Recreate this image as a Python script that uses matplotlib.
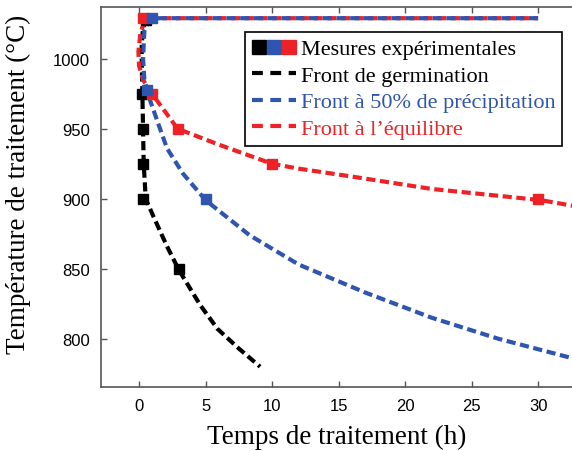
import numpy as np
import matplotlib
matplotlib.use("Agg")
import matplotlib.pyplot as plt
from matplotlib.lines import Line2D
from matplotlib.legend_handler import HandlerTuple

# dashed model curves (time in h, temperature in degC)
germ_t = [0.6, 0.3, 0.2, 0.2, 0.25, 0.3, 0.35, 0.5, 1.05, 2.1, 3.0, 4.6, 5.9, 7.5, 9.1]
germ_T = [1029, 1022, 1010, 1000, 975, 950, 925, 900, 888, 866, 849, 824, 807, 793, 780]

half_t = [30, 1.5, 0.8, 0.4, 0.3, 0.4, 0.8, 2.1, 3.3, 5.0, 8.3, 12, 17, 22, 27, 32.6]
half_T = [1029, 1029, 1027, 1020, 1000, 985, 971, 936, 918, 899, 874, 853, 833, 815, 800, 786]

eq_t = [30, 1.0, 0.4, 0.1, -0.05, 0.0, 0.3, 1.05, 2.9, 5.9, 10, 12, 15.9, 22, 30.2, 32.6]
eq_T = [1029, 1029, 1027, 1018, 1005, 995, 985, 974, 950, 939, 925, 921.5, 916, 907, 899, 895]

# experimental points
germ_pt_t = [0.5, 0.25, 0.3, 0.3, 0.3, 3.0]
germ_pt_T = [1028, 975, 950, 925, 900, 850]
half_pt_t = [1.0, 0.6, 5.0]
half_pt_T = [1029, 978, 900]
eq_pt_t = [0.3, 1.0, 2.9, 10.0, 30.0]
eq_pt_T = [1029, 975, 950, 925, 900]

black = '#000000'
blue = '#2f55b0'
red = '#ee2226'

fig = plt.figure(figsize=(5.72, 4.52), dpi=100)
ax = fig.add_axes([0.1766, 0.1416, 0.8234, 0.8407])

lw = 3
dash = (2.2, 1.1)
ax.plot(germ_t, germ_T, color=black, lw=lw, dashes=dash)
# red first, shifted so it shows in the gaps of the blue where both overlap
ax.plot(eq_t, eq_T, color=red, lw=lw, ls=(1.1, dash))
ax.plot(half_t, half_T, color=blue, lw=lw, dashes=dash)

ms = 7
ax.plot(germ_pt_t, germ_pt_T, 's', color=black, ms=ms)
ax.plot(eq_pt_t, eq_pt_T, 's', color=red, ms=ms)
ax.plot(half_pt_t, half_pt_T, 's', color=blue, ms=ms)

ax.set_xlim(-2.86, 32.55)
ax.set_ylim(765.5, 1037)
ax.set_xticks(np.arange(0, 31, 5))
ax.set_yticks(np.arange(800, 1001, 50))

for spine in ['left', 'bottom', 'top']:
    ax.spines[spine].set_color('#555555')
    ax.spines[spine].set_linewidth(1.2)
ax.spines['right'].set_visible(False)
ax.tick_params(direction='in', top=True, length=4, width=1, color='#555555',
               labelsize=12, pad=8)
for lab in ax.get_xticklabels() + ax.get_yticklabels():
    lab.set_family('Liberation Sans')

ax.set_xlabel('Temps de traitement (h)', family='Liberation Serif', fontsize=19.5, labelpad=8)
ax.set_ylabel('Température de traitement (°C)', family='Liberation Serif', fontsize=19.5)
ax.yaxis.set_label_coords(-0.148, 0.537)

sq = [Line2D([], [], ls='none', marker='s', ms=10, color=c) for c in (black, blue, red)]
handles = [tuple(sq),
           Line2D([], [], color=black, lw=lw, dashes=(2.6, 1.8)),
           Line2D([], [], color=blue, lw=lw, dashes=(2.6, 1.8)),
           Line2D([], [], color=red, lw=lw, dashes=(2.6, 1.8))]
labels = ['Mesures expérimentales', 'Front de germination',
          'Front à 50% de précipitation', "Front à l’équilibre"]
leg = ax.legend(handles, labels, loc='upper left', bbox_to_anchor=(0.306, 0.934),
                borderaxespad=0, fancybox=False, edgecolor='black', framealpha=1,
                prop={'family': 'Liberation Serif', 'size': 16},
                handlelength=2.0, handletextpad=0.2, labelspacing=0.27,
                borderpad=0.3, handler_map={tuple: HandlerTuple(ndivide=None, pad=0)})
leg.get_frame().set_linewidth(1.2)
for txt, c in zip(leg.get_texts(), [black, black, blue, red]):
    txt.set_color(c)

fig.savefig('out.png', dpi=100)
